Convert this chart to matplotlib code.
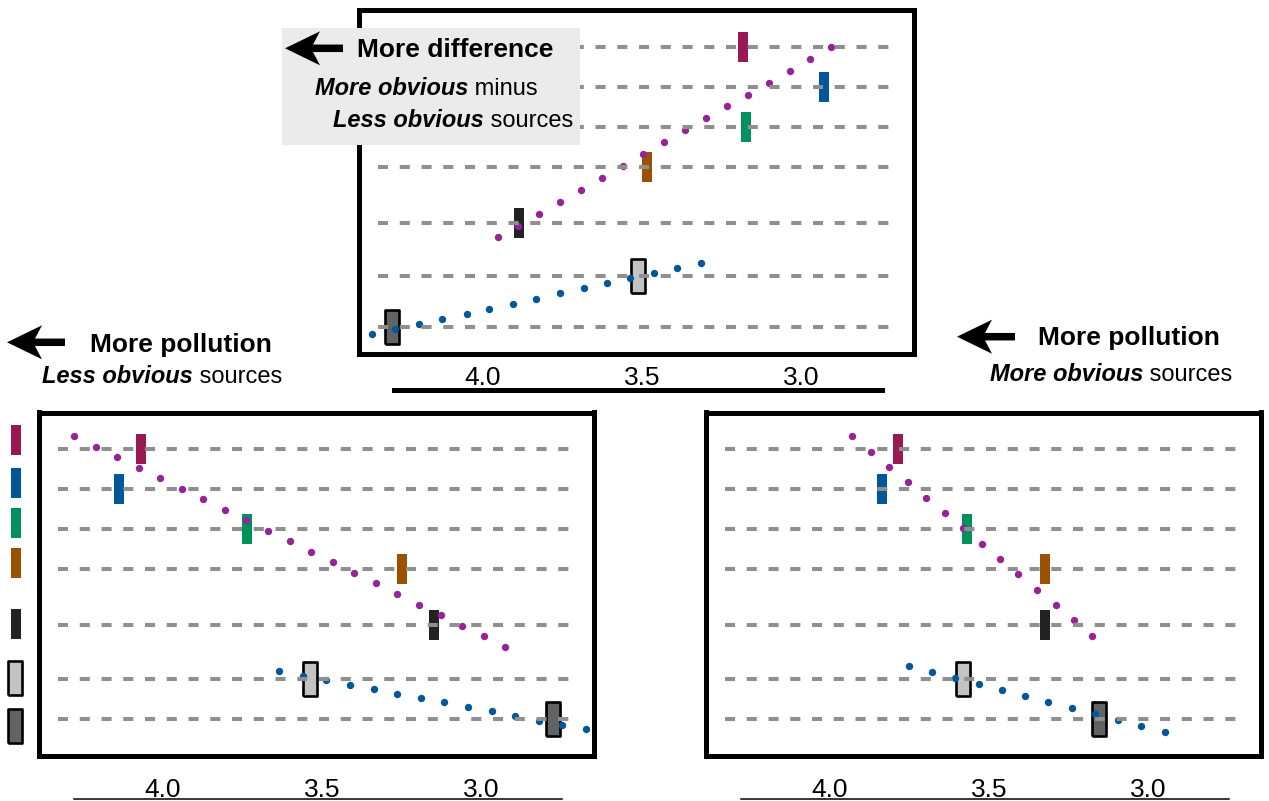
import matplotlib.pyplot as plt
from matplotlib.patches import FancyArrow, Rectangle

plt.rcParams['font.family'] = ['Liberation Sans', 'DejaVu Sans']

W, H = 1269, 801

# ---- data: score on x (reversed), source row on y ----
tick_values = [4.0, 3.5, 3.0]
tick_labels = ['4.0', '3.5', '3.0']

source_colors = ['#991a52', '#00579a', '#00915c', '#9a5200', '#222222', '#c3c3c3', '#636363']
purple = '#952596'
dot_blue = '#00579a'

# less obvious sources (bottom left)
left_bars = [4.07, 4.137, 3.735, 3.249, 3.147, 3.538, 2.774]
left_purple_x = [4.280, 4.212, 4.145, 4.077, 4.009, 3.941, 3.873, 3.805, 3.738, 3.671, 3.602,
                 3.535, 3.467, 3.399, 3.330, 3.263, 3.195, 3.127, 3.060, 2.992, 2.924]
left_purple_y = [-0.34, -0.065, 0.20, 0.46, 0.725, 0.99, 1.25, 1.52, 1.775, 2.04, 2.30,
                 2.57, 2.825, 3.09, 3.35, 3.62, 3.885, 4.14, 4.41, 4.67, 4.935]
left_blue_x = [3.634, 3.561, 3.488, 3.412, 3.338, 3.264, 3.189, 3.116, 3.041, 2.967,
               2.892, 2.819, 2.744, 2.670]
left_blue_y = [5.54, 5.66, 5.77, 5.885, 6.0, 6.11, 6.22, 6.325, 6.44, 6.55,
               6.67, 6.785, 6.89, 7.0]

# more obvious sources (bottom right)
right_bars = [3.786, 3.837, 3.568, 3.325, 3.325, 3.582, 3.153]
right_purple_x = [3.930, 3.872, 3.814, 3.756, 3.698, 3.639, 3.581, 3.523, 3.466, 3.408,
                  3.350, 3.291, 3.234, 3.175]
right_purple_y = [-0.33, 0.06, 0.44, 0.825, 1.21, 1.59, 1.975, 2.36, 2.74, 3.125,
                  3.52, 3.89, 4.275, 4.67]
right_blue_x = [3.752, 3.678, 3.606, 3.533, 3.460, 3.387, 3.314, 3.240, 3.167, 3.094,
                3.021, 2.948]
right_blue_y = [5.41, 5.56, 5.71, 5.86, 6.02, 6.16, 6.31, 6.47, 6.62, 6.77, 6.92, 7.07]

# difference (top)
top_bars = [3.182, 2.929, 3.173, 3.483, 3.886, 3.513, 4.285]
top_purple_x = [3.954, 3.889, 3.823, 3.757, 3.692, 3.627, 3.561, 3.496, 3.430, 3.364,
                3.298, 3.233, 3.168, 3.102, 3.036, 2.971, 2.905]
top_purple_y = [4.765, 4.475, 4.175, 3.875, 3.575, 3.275, 2.983, 2.678, 2.388, 2.09,
                1.79, 1.49, 1.2, 0.9, 0.6, 0.308, 0.0075]
top_blue_x = [4.350, 4.276, 4.201, 4.128, 4.052, 3.980, 3.905, 3.832, 3.758, 3.684,
              3.610, 3.537, 3.462, 3.390, 3.315]
top_blue_y = [7.18, 7.065, 6.93, 6.81, 6.675, 6.55, 6.425, 6.3, 6.165, 6.04,
              5.915, 5.78, 5.658, 5.525, 5.4]

# ---- layout ----
rows_bottom = [0, 1, 2, 3, 4.4, 5.73, 6.73]
rows_top = [0, 1, 2, 3, 4.4, 5.73, 7.0]
legend_rows = [-0.22, 0.84, 1.84, 2.84, 4.37, 5.705, 6.905]

PX_PER_UNIT = 318
LINE_LEN = 488
X_AT_LINE_START = 4.28
BOX_H = 343.5
YLIM = (7.6675, -0.92)

thin_bar = [(-5.35, -15), (5.35, -15), (5.35, 15), (-5.35, 15), (-5.35, -15)]
wide_bar = [(-6.5, -17.35), (6.5, -17.35), (6.5, 17.35), (-6.5, 17.35), (-6.5, -17.35)]


def draw_bar(ax, x, y, i):
    if i < 5:
        ax.plot(x, y, linestyle='none', marker=thin_bar, ms=21.6, color=source_colors[i],
                mew=0, zorder=2, clip_on=False)
    else:
        ax.plot(x, y, linestyle='none', marker=wide_bar, ms=25, mfc=source_colors[i],
                mec='black', mew=1.9, zorder=2, clip_on=False)


fig = plt.figure(figsize=(W / 100, H / 100), dpi=100)


def panel(line_left, box_top, line_y, rows, bars, px, py, bx, by, line_w, pad):
    box_left = line_left - 35
    box_right = line_left + LINE_LEN + 31.5
    ax = fig.add_axes([box_left / W, 1 - (box_top + BOX_H) / H,
                       (box_right - box_left) / W, BOX_H / H])
    ax.set_xlim(X_AT_LINE_START + 35 / PX_PER_UNIT,
                X_AT_LINE_START - (LINE_LEN + 31.5) / PX_PER_UNIT)
    ax.set_ylim(*YLIM)
    for s in ax.spines.values():
        s.set_linewidth(3.6)
        s.set_color('black')
    ax.set_yticks([])
    ax.set_xticks(tick_values)
    ax.set_xticklabels(tick_labels)
    ax.tick_params(axis='x', length=0, pad=pad, labelsize=19)

    ax.hlines(rows, 4.33, 2.70, colors='#8f8f8f', linewidth=2.9,
              linestyles=(0, (2.5, 2.9)), zorder=4)
    for i, (x, y) in enumerate(zip(bars, rows)):
        draw_bar(ax, x, y, i)
    ax.plot(px, py, 'o', ms=5.3, color=purple, mew=0, zorder=3, clip_on=False)
    ax.plot(bx, by, 'o', ms=5.3, color=dot_blue, mew=0, zorder=3, clip_on=False)

    # separate scale line under the box
    axl = fig.add_axes([line_left / W, 1 - line_y / H, LINE_LEN / W, 0.0001])
    axl.set_xlim(X_AT_LINE_START, X_AT_LINE_START - LINE_LEN / PX_PER_UNIT)
    for k in ['top', 'left', 'right']:
        axl.spines[k].set_visible(False)
    axl.spines['bottom'].set_linewidth(line_w)
    axl.set_xticks([])
    axl.set_yticks([])
    axl.patch.set_alpha(0)
    return ax


panel(74, 412.5, 799, rows_bottom, left_bars, left_purple_x, left_purple_y,
      left_blue_x, left_blue_y, 1.1, 15.5)
panel(741, 412.5, 799, rows_bottom, right_bars, right_purple_x, right_purple_y,
      right_blue_x, right_blue_y, 1.1, 15.5)
panel(394, 10, 390, rows_top, top_bars, top_purple_x, top_purple_y,
      top_blue_x, top_blue_y, 3.6, 9.3)

# colour key at far left
axk = fig.add_axes([0, 1 - (412.5 + BOX_H) / H, 35 / W, BOX_H / H])
axk.set_xlim(0, 35)
axk.set_ylim(*YLIM)
axk.set_axis_off()
for i, y in enumerate(legend_rows):
    draw_bar(axk, 15.5 if i < 5 else 14.5, y, i)

# text overlay in pixel coordinates
ov = fig.add_axes([0, 0, 1, 1], zorder=10)
ov.set_axis_off()
ov.set_xlim(0, W)
ov.set_ylim(H, 0)


def arrow(tail, y):
    ov.add_patch(FancyArrow(tail, y, -58, 0, width=7.5, head_width=34, head_length=35,
                            length_includes_head=True, overhang=0.2, color='black', lw=0))


def mixed_line(x, y, strong, plain, size=17):
    t = ov.text(x, y, strong, fontsize=size, weight='bold', style='italic',
                ha='left', va='baseline')
    ov.annotate(plain, xy=(1, 0), xycoords=t, fontsize=size, ha='left', va='bottom')


ov.add_patch(Rectangle((282, 28), 298, 117, color='#ebebeb', lw=0))
arrow(343, 48.3)
ov.text(357, 57, 'More difference', fontsize=19, weight='bold', ha='left', va='baseline')
mixed_line(315, 95, 'More obvious', ' minus')
mixed_line(333, 126.7, 'Less obvious', ' sources')

arrow(65, 342.3)
ov.text(90, 351.7, 'More pollution', fontsize=19, weight='bold', ha='left', va='baseline')
mixed_line(42, 383.3, 'Less obvious', ' sources')

arrow(1015, 336.7)
ov.text(1038, 345, 'More pollution', fontsize=19, weight='bold', ha='left', va='baseline')
mixed_line(990, 380.7, 'More obvious', ' sources')

fig.savefig('out.png', dpi=100)
